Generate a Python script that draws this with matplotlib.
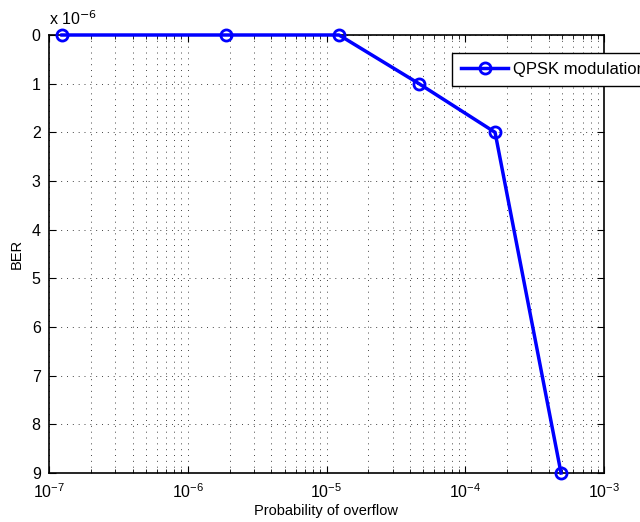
import numpy as np
import matplotlib
matplotlib.use('Agg')
import matplotlib.pyplot as plt
from matplotlib.ticker import FuncFormatter, LogLocator, NullFormatter

plt.rcParams['font.family'] = ['Liberation Sans', 'DejaVu Sans']

# data
p_overflow = [1.24e-7, 1.89e-6, 1.23e-5, 4.64e-5, 1.64e-4, 4.9e-4]
ber = [0, 0, 0, 1e-6, 2e-6, 9e-6]
series_label = 'QPSK modulation'

fig = plt.figure(figsize=(6.4, 5.22), dpi=100)
ax = fig.add_axes([49/640, 49/522, 555/640, 438/522])

ax.plot(p_overflow, ber, color='#0000ff', lw=2.5, marker='o', ms=8,
        mfc='none', mec='#0000ff', mew=2, label=series_label, clip_on=False,
        zorder=5)

ax.set_xscale('log')
ax.set_xlim(1e-7, 1e-3)
ax.set_ylim(9e-6, 0)
ax.set_yticks(np.arange(0, 10) * 1e-6)
ax.yaxis.set_major_formatter(FuncFormatter(lambda v, p: '%d' % round(v / 1e-6)))
ax.xaxis.set_major_locator(LogLocator(base=10, numticks=10))
ax.xaxis.set_minor_locator(LogLocator(base=10, subs=np.arange(2, 10), numticks=20))
ax.xaxis.set_minor_formatter(NullFormatter())

ax.grid(True, which='major', ls=(0, (1, 5)), color='#444444', lw=0.7)
ax.grid(True, which='minor', axis='x', ls=(0, (1, 5)), color='#444444', lw=0.7)
ax.tick_params(which='both', direction='in', top=True, right=True, labelsize=11.5)
ax.tick_params(axis='x', which='major', length=5, pad=7)
ax.tick_params(axis='y', which='major', length=5, pad=6)
ax.tick_params(which='minor', length=3)
for s in ax.spines.values():
    s.set_linewidth(1.2)

ax.set_xlabel('Probability of overflow', fontsize=10.5, labelpad=2)
ax.set_ylabel('BER', fontsize=10.5, labelpad=6)
ax.text(0, 1.015, r'x 10$^{-6}$', transform=ax.transAxes, fontsize=11.5,
        ha='left', va='bottom')

leg = ax.legend(loc='upper left', bbox_to_anchor=(452/640, 1 - 53/522),
                bbox_transform=fig.transFigure, fontsize=12, frameon=True,
                fancybox=False, edgecolor='black', framealpha=1,
                handlelength=2.8, borderpad=0.55, handletextpad=0.3,
                borderaxespad=0)
leg.get_frame().set_linewidth(1)

fig.savefig('out.png', dpi=100)
